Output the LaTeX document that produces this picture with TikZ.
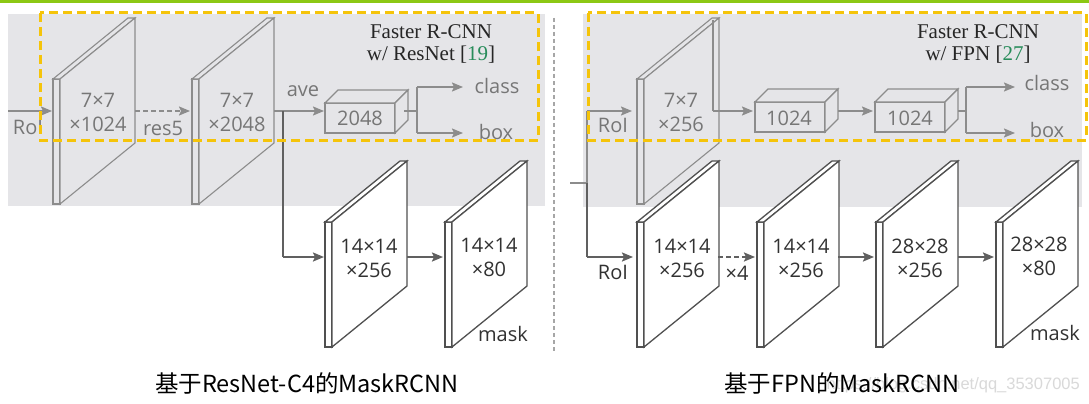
\documentclass[tikz,border=0pt]{standalone}
\usepackage{fontspec}
\setmainfont{Open Sans}
\newfontfamily\serifF{Liberation Serif}
\newfontfamily\cjkF{Noto Sans CJK SC}
\newfontfamily\wmF{Liberation Sans}
\usetikzlibrary{arrows.meta}
\definecolor{panel}{RGB}{229,229,232}
\definecolor{topgreen}{RGB}{140,200,20}
\definecolor{ydash}{RGB}{245,196,10}
\definecolor{upline}{RGB}{140,140,140}
\definecolor{uptext}{RGB}{118,118,118}
\definecolor{loline}{RGB}{96,96,96}
\definecolor{loplate}{RGB}{80,80,80}
\definecolor{lotext}{RGB}{50,50,50}
\definecolor{refgreen}{RGB}{40,140,90}
\tikzset{
  slabside/.style={fill=panel,draw=upline,line width=1.1pt},
  slabface/.style={fill=panel,draw=upline,line width=1.1pt},
  grayslab/.style={slabside/.style={fill=panel,draw=upline,line width=1.1pt},
                   slabface/.style={fill=panel,draw=upline,line width=1.1pt}},
  whiteslab/.style={slabside/.style={fill=white,draw=loplate,line width=1.3pt},
                    slabface/.style={fill=white,draw=loplate,line width=1.3pt}},
  pics/slab/.style={code={
    \path[slabside] (-7,0) rectangle (0,125);
    \path[slabside] (-7,0) -- (0,0) -- (75,-61) -- (68,-61) -- cycle;
    \path[slabface] (0,0) -- (75,-61) -- (75,64) -- (0,125) -- cycle;
  }},
  pics/fcbox/.style={code={
    \draw[upline,line width=1.1pt,fill=panel] (0,0) rectangle (70,30);
    \draw[upline,line width=1.1pt,fill=panel] (0,0) -- (13,-13) -- (83,-13) -- (70,0) -- cycle;
    \draw[upline,line width=1.1pt,fill=panel] (70,0) -- (83,-13) -- (83,17) -- (70,30) -- cycle;
  }},
  uplab/.style={font=\fontsize{20}{24}\selectfont,text=uptext,inner sep=0pt,align=center},
  lolab/.style={font=\fontsize{20}{24}\selectfont,text=lotext,inner sep=0pt,align=center},
  upline/.style={draw=upline,line width=1.8pt},
  uparrow/.style={draw=upline,line width=1.8pt,-{Stealth[length=11pt,width=9pt,inset=2pt]}},
  loarrow/.style={draw=loline,line width=2pt,-{Stealth[length=11pt,width=9pt,inset=2pt]}},
  loline/.style={draw=loline,line width=2pt},
  ttl/.style={font=\serifF\fontsize{21}{22}\selectfont,text=black!85,inner sep=0pt,align=center},
  caption/.style={font=\cjkF\fontsize{23.5}{26}\selectfont,text=black,inner sep=0pt},
  yellowbox/.style={draw=ydash,line width=3pt,dash pattern=on 9pt off 5pt},
}
\begin{document}
\begin{tikzpicture}[x=1pt,y=-1pt]
\useasboundingbox (0,0) rectangle (1089,404);
\fill[white] (0,0) rectangle (1089,404);
\fill[topgreen] (0,0) rectangle (1089,3);
% gray panels
\fill[panel] (8,14) rectangle (545,206);
\fill[panel] (583,14) rectangle (1082,207);
% divider
\draw[gray!70,line width=1.2pt,dash pattern=on 4pt off 3pt] (554,18) -- (554,352);
% watermark
\node[font=\wmF\fontsize{16.5}{18}\selectfont,text=black!15,anchor=east,inner sep=0pt] (wm) at (1080,385) {https://blog.csdn.net/qq\_35307005};

% ================= LEFT: ResNet-C4 =================
\coordinate (inL) at (8,111);
\coordinate (p1in) at (52,111);
\coordinate (p1out) at (135,111);
\coordinate (p2in) at (190,111);
\coordinate (p2out) at (274,111);
\coordinate (jL) at (283,111);
\coordinate (b1in) at (324,111);
\coordinate (b1out) at (404,111);
\coordinate (kL) at (417,111);
\coordinate (kLt) at (417,87);
\coordinate (kLb) at (417,133);
\coordinate (clsL) at (463,87);
\coordinate (boxL) at (463,133);
\coordinate (jLd) at (283,257);
\coordinate (p3in) at (324,257);
\coordinate (p3out) at (407,257);
\coordinate (p4in) at (443,257);

\pic[grayslab] at (60,79) {slab};
\pic[grayslab] at (199,79) {slab};
\pic at (325,103) {fcbox};
\pic[whiteslab] at (332,222) {slab};
\pic[whiteslab] at (452,222) {slab};

\node[uplab] (t1) at (98,112) {7×7\\×1024};
\node[uplab] (t2) at (237,112) {7×7\\×2048};
\node[uplab] (tb1) at (360,118) {2048};
\node[uplab] (roiL) at (28,127) {RoI};
\node[uplab] (res5) at (163,128) {res5};
\node[uplab] (ave) at (303,91) {ave};
\node[uplab] (clsLt) at (497,86) {class};
\node[uplab] (boxLt) at (496,132) {box};
\node[lolab] (t3) at (369,258) {14×14\\×256};
\node[lolab] (t4) at (489,257) {14×14\\×80};
\node[lolab] (maskL) at (503,334) {mask};
\node[ttl] (fL) at (431,44) {Faster R-CNN\\w/ ResNet [\textcolor{refgreen}{19}]};

\draw[uparrow] (inL) -- (p1in);
\draw[uparrow,dash pattern=on 5pt off 3pt] (p1out) -- (p2in);
\draw[upline] (p2out) -- (jL);
\draw[uparrow] (jL) -- (b1in);
\draw[upline] (b1out) -- (kL);
\draw[upline] (kLt) -- (kLb);
\draw[uparrow] (kLt) -- (clsL);
\draw[uparrow] (kLb) -- (boxL);
\draw[loline] (jL) -- (jLd);
\draw[loarrow] (jLd) -- (p3in);
\draw[loarrow] (p3out) -- (p4in);

% ================= RIGHT: FPN =================
\coordinate (inR) at (570,183);
\coordinate (jR) at (587,183);
\coordinate (jRt) at (587,111);
\coordinate (jRb) at (587,257);
\coordinate (r1in) at (632,111);
\coordinate (r1top) at (713,20);
\coordinate (r1out) at (713,111);
\coordinate (c1in) at (753,111);
\coordinate (c1out) at (838,111);
\coordinate (c2in) at (873,111);
\coordinate (c2out) at (958,111);
\coordinate (kR) at (966,111);
\coordinate (kRt) at (966,87);
\coordinate (kRb) at (966,133);
\coordinate (clsR) at (1015,87);
\coordinate (boxR) at (1015,133);
\coordinate (r2in) at (633,257);
\coordinate (r2out) at (718,257);
\coordinate (r3in) at (755,257);
\coordinate (r3out) at (838,257);
\coordinate (r4in) at (874,257);
\coordinate (r4out) at (958,257);
\coordinate (r5in) at (994,257);

\pic[grayslab] at (644,79) {slab};
\pic at (755,102) {fcbox};
\pic at (875,102) {fcbox};
\pic[whiteslab] at (644,222) {slab};
\pic[whiteslab] at (764,222) {slab};
\pic[whiteslab] at (883,222) {slab};
\pic[whiteslab] at (1003,222) {slab};

\node[uplab] (tr1) at (681,112) {7×7\\×256};
\node[uplab] (tc1) at (789,118) {1024};
\node[uplab] (tc2) at (910,118) {1024};
\node[uplab] (roiRt) at (613,125) {RoI};
\node[uplab] (clsRt) at (1047,83) {class};
\node[uplab] (boxRt) at (1047,130) {box};
\node[lolab] (roiRb) at (613,272) {RoI};
\node[lolab] (x4) at (737,273) {×4};
\node[lolab] (tr2) at (682,258) {14×14\\×256};
\node[lolab] (tr3) at (801,258) {14×14\\×256};
\node[lolab] (tr4) at (920,258) {28×28\\×256};
\node[lolab] (tr5) at (1039,256) {28×28\\×80};
\node[lolab] (maskR) at (1055,333) {mask};
\node[ttl] (fR) at (978,44) {Faster R-CNN\\w/ FPN [\textcolor{refgreen}{27}]};

\draw[upline] (inR) -- (jR);
\draw[upline] (jRt) -- (jR);
\draw[loline] (jR) -- (jRb);
\draw[uparrow] (jRt) -- (r1in);
\draw[upline,line width=1.1pt] (r1top) -- (r1out);
\draw[uparrow] (r1out) -- (c1in);
\draw[uparrow] (c1out) -- (c2in);
\draw[upline] (c2out) -- (kR);
\draw[upline] (kRt) -- (kRb);
\draw[uparrow] (kRt) -- (clsR);
\draw[uparrow] (kRb) -- (boxR);
\draw[loarrow] (jRb) -- (r2in);
\draw[loarrow,dash pattern=on 5pt off 3pt] (r2out) -- (r3in);
\draw[loarrow] (r3out) -- (r4in);
\draw[loarrow] (r4out) -- (r5in);

% yellow dashed frames
\draw[yellowbox] (40,13) rectangle (538,140);
\draw[yellowbox] (588,13) rectangle (1086,140);

% captions
\node[caption] (capL) at (307,383) {基于ResNet-C4的MaskRCNN};
\node[caption] (capR) at (842,383) {基于FPN的MaskRCNN};
\end{tikzpicture}
\end{document}
